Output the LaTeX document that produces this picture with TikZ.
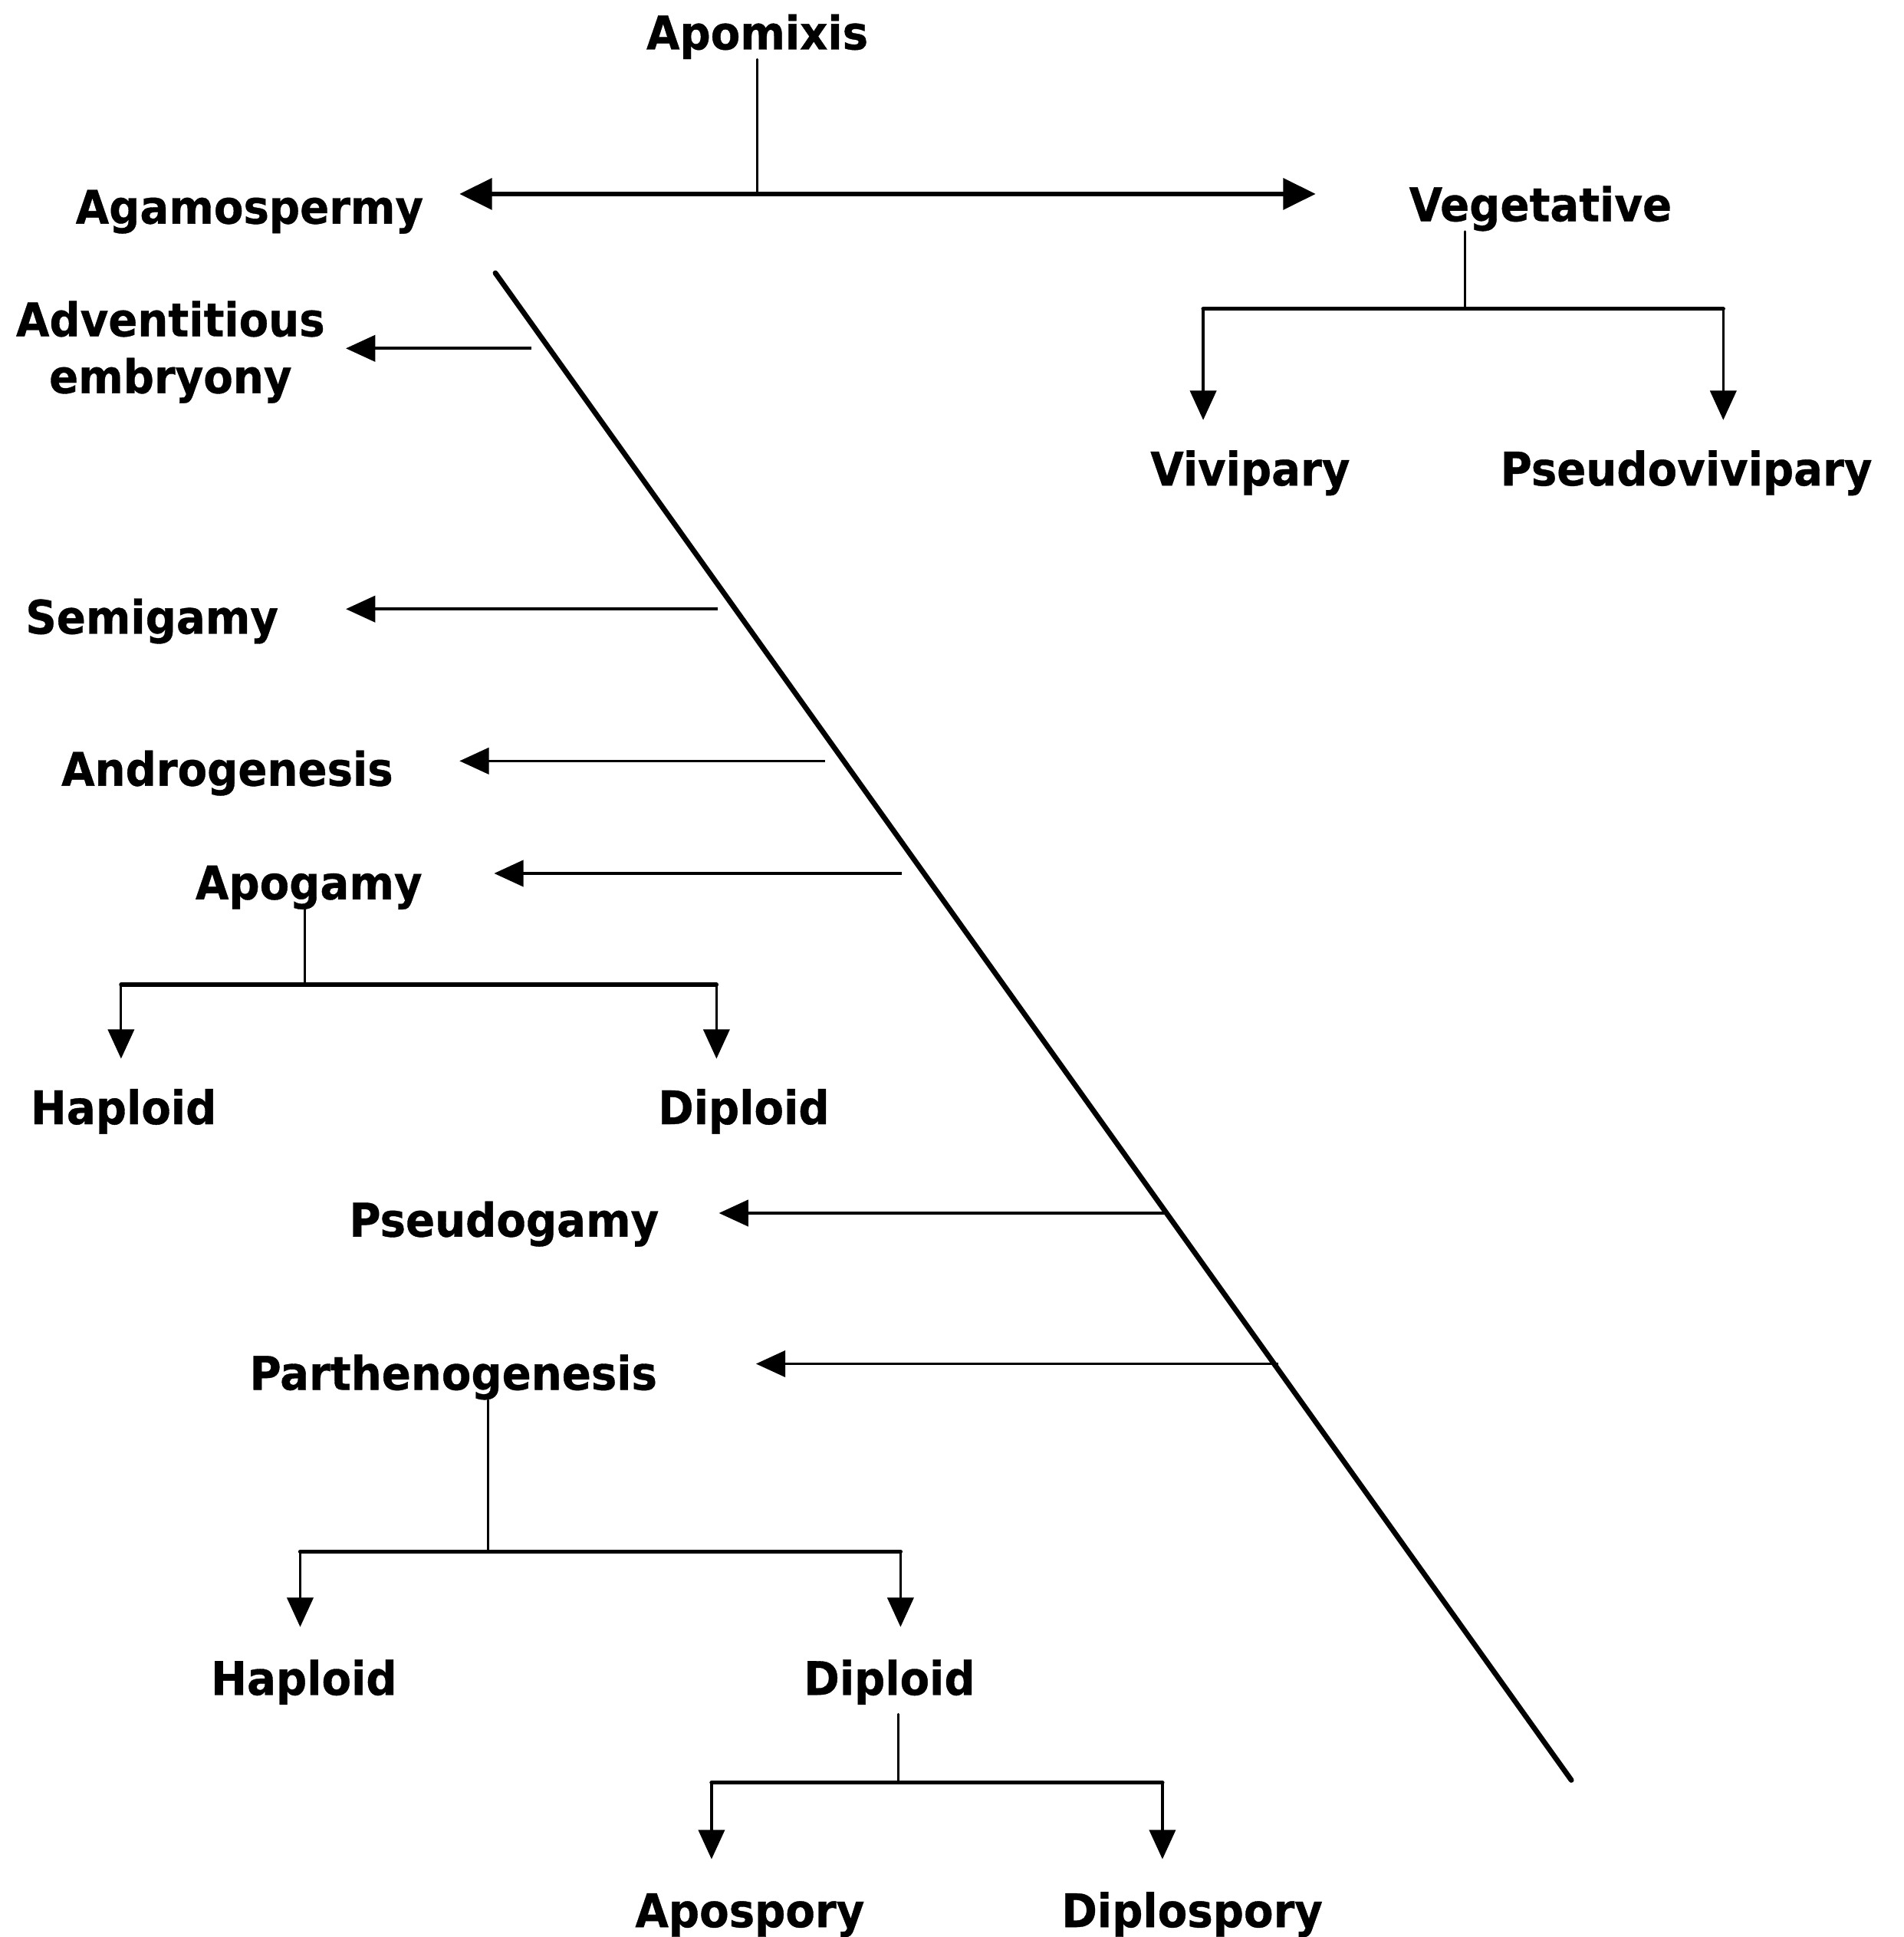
\documentclass[tikz,border=0pt]{standalone}
\usepackage{fontspec}
\newfontfamily\lblfont{DejaVu Sans}[FakeStretch=0.93,FakeBold=0.6]
\usetikzlibrary{arrows.meta}

\tikzset{
  lbl/.style={font=\lblfont\bfseries\fontsize{30}{36.8}\selectfont, inner sep=0pt, anchor=base},
  stem/.style={line width=1.5pt, line cap=round},
  bar/.style={line width=2.6pt, line cap=round},
  drop/.style={line width=1.6pt, -{Triangle[length=19pt,width=17pt]}},
  leftarr/.style={line width=1.8pt, -{Triangle[length=19pt,width=17pt]}},
  bigarr/.style={line width=2.8pt, {Triangle[length=21pt,width=20pt]}-{Triangle[length=21pt,width=20pt]}},
  diag/.style={line width=3.4pt, line cap=round}
}

\begin{document}
\begin{tikzpicture}[x=0.8pt, y=-0.8pt]
\useasboundingbox (0,0) rectangle (1541,1568);

% labels
\node[lbl] (apomixis) at (613,40) {Apomixis};
\node[lbl] (agamo) at (202,181) {Agamospermy};
\node[lbl] (veg) at (1247,179) {Vegetative};
\node[lbl] (vivi) at (1012,393) {Vivipary};
\node[lbl] (pvivi) at (1365,393) {Pseudovivipary};
\node[lbl, anchor=center, align=center] (advent) at (138,285) {Adventitious\\embryony};
\node[lbl] (semi) at (123,513) {Semigamy};
\node[lbl] (andro) at (184,636) {Androgenesis};
\node[lbl] (apog) at (250,728) {Apogamy};
\node[lbl] (hap1) at (100,910) {Haploid};
\node[lbl] (dip1) at (602,910) {Diploid};
\node[lbl] (pseudo) at (408,1001) {Pseudogamy};
\node[lbl] (parth) at (367,1125) {Parthenogenesis};
\node[lbl] (hap2) at (246,1372) {Haploid};
\node[lbl] (dip2) at (720,1372) {Diploid};
\node[lbl] (aposp) at (607,1560) {Apospory};
\node[lbl] (diplo) at (965,1560) {Diplospory};

% top split: Apomixis into Agamospermy and Vegetative
\coordinate (j0) at (613,157);
\coordinate (tAgamo) at (372,157);
\coordinate (tVeg) at (1065,157);
\draw[stem] (apomixis) -- (j0);
\draw[bigarr] (tAgamo) -- (tVeg);

% Vegetative branches
\coordinate (vj) at (1186,250);
\coordinate (tVivi) at (974,340);
\coordinate (tPvivi) at (1395,340);
\draw[stem] (vj |- veg.south) -- (vj);
\draw[bar] (tVivi |- vj) -- (tPvivi |- vj);
\draw[drop] (tVivi |- vj) -- (tVivi);
\draw[drop] (tPvivi |- vj) -- (tPvivi);

% the long diagonal from which the agamospermy types branch off
\coordinate (dtop) at (401,221);
\coordinate (dbot) at (1272,1441);
\draw[diag] (dtop) -- (dbot);

% arrows from the diagonal to each type
\coordinate (s1) at (430,282);  \coordinate (t1) at (280,282);
\coordinate (s2) at (581,493);  \coordinate (t2) at (280,493);
\coordinate (s3) at (668,616);  \coordinate (t3) at (372,616);
\coordinate (s4) at (730,707);  \coordinate (t4) at (400,707);
\coordinate (s5) at (945,982);  \coordinate (t5) at (582,982);
\coordinate (s6) at (1035,1104); \coordinate (t6) at (612,1104);
\draw[leftarr] (s1) -- (t1);
\draw[leftarr] (s2) -- (t2);
\draw[leftarr] (s3) -- (t3);
\draw[leftarr] (s4) -- (t4);
\draw[leftarr] (s5) -- (t5);
\draw[leftarr] (s6) -- (t6);

% Apogamy branches
\coordinate (aj) at (247,797);
\coordinate (tHap1) at (98,857);
\coordinate (tDip1) at (580,857);
\draw[stem] (aj |- apog.south) -- (aj);
\draw[bar] (tHap1 |- aj) -- (tDip1 |- aj);
\draw[drop] (tHap1 |- aj) -- (tHap1);
\draw[drop] (tDip1 |- aj) -- (tDip1);

% Parthenogenesis branches
\coordinate (pj) at (395,1256);
\coordinate (tHap2) at (243,1317);
\coordinate (tDip2) at (729,1317);
\draw[stem] (pj |- parth.south) -- (pj);
\draw[bar] (tHap2 |- pj) -- (tDip2 |- pj);
\draw[drop] (tHap2 |- pj) -- (tHap2);
\draw[drop] (tDip2 |- pj) -- (tDip2);

% Diploid branches
\coordinate (dj) at (727,1443);
\coordinate (tApo) at (576,1505);
\coordinate (tDipl) at (941,1505);
\draw[stem] ([yshift=-6pt]dj |- dip2.south) -- (dj);
\draw[bar] (tApo |- dj) -- (tDipl |- dj);
\draw[drop] (tApo |- dj) -- (tApo);
\draw[drop] (tDipl |- dj) -- (tDipl);
\end{tikzpicture}
\end{document}
